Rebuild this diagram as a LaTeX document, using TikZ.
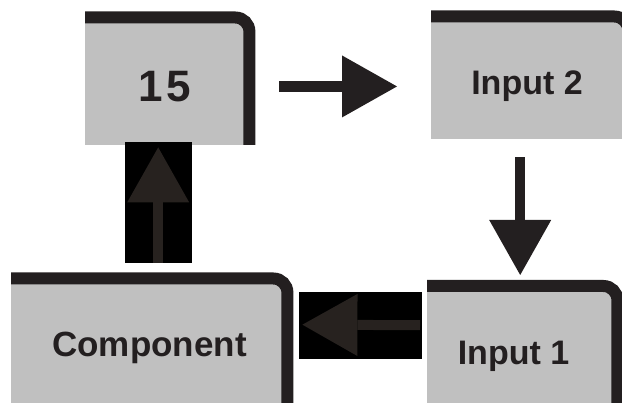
\documentclass[tikz,border=0pt]{standalone}
\usepackage{fontspec}
\setmainfont{Liberation Sans}
\usepackage{tikz}
\usetikzlibrary{arrows.meta,positioning}
\definecolor{panelgray}{HTML}{C0C0C0}
\definecolor{rimblack}{HTML}{231F20}
\definecolor{shadowgray}{HTML}{27221F}
\tikzset{
  panel/.style={fill=panelgray,inner sep=0pt,anchor=north west},
  rim/.style={draw=rimblack,line width=12pt,rounded corners=14pt},
  tag/.style={anchor=base,inner sep=0pt,text=rimblack,font=\bfseries\fontsize{34}{40}\selectfont},
  backing/.style={fill=black,inner sep=0pt},
  blockarrow/.style={-{Triangle[length=55pt,width=62pt,line width=0pt]},line width=11pt,draw=rimblack},
  shadowarrow/.style={blockarrow,draw=shadowgray},
}

\begin{document}
\begin{tikzpicture}[x=1pt,y=-1pt]
      \useasboundingbox (0,0) rectangle (622,403);
      \foreach \bx/\xx/\yy/\ww/\hh in {n15/85/17.5/164/127,in2/431/16.5/197/122,in1/427/286/190/130,comp/11/278.5/276/130}{
        \node[panel,minimum width=\ww pt,minimum height=\hh pt] (\bx) at (\xx,\yy) {};
        \draw[rim] (\bx.north west)--(\bx.north east)--(\bx.south east);
      }
      \node[tag,font=\bfseries\fontsize{44}{50}\selectfont] (t15) at (164.5,102) {1\kern4pt5};
      \node[tag] (tin2) at (527,95) {Input 2};
      \node[tag] (tin1) at (513.5,365) {Input 1};
      \node[tag,font=\bfseries\fontsize{35}{40}\selectfont] (tcomp) at (149.5,357) {Component};
      \node[backing,minimum width=67pt,minimum height=121pt] (upbg) at (158.5,202.5) {};
      \node[backing,minimum width=123pt,minimum height=67pt] (leftbg) at (360.5,325.5) {};
      \draw[blockarrow] ([xshift=30pt,yshift=-5.25pt]n15.east)--([xshift=-34pt,yshift=-8.75pt]in2.west);
      \draw[blockarrow,line width=10pt] ([xshift=-9.5pt,yshift=-18.5pt]in2.south)--([xshift=-2pt,yshift=11pt]in1.north);
      \draw[shadowarrow,line width=10pt] ([xshift=-7pt,yshift=26pt]in1.west)--([xshift=15pt,yshift=19pt]comp.east);
      \draw[shadowarrow,line width=10pt] ([xshift=9pt,yshift=15.5pt]comp.north)--([xshift=-9pt,yshift=-2.5pt]n15.south);
    \end{tikzpicture}
\end{document}
